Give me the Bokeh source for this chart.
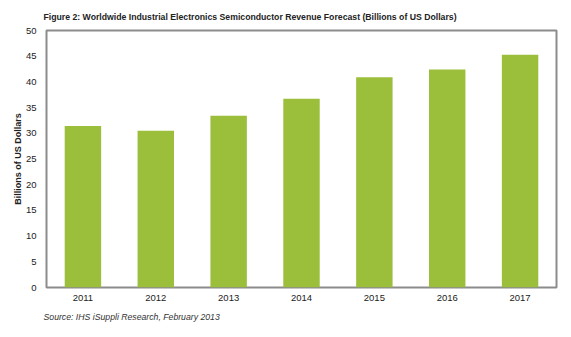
from bokeh.plotting import figure
from bokeh.models import ColumnDataSource, Title, Range1d, FixedTicker
from bokeh.embed import file_html
from bokeh.resources import INLINE

years = ["2011", "2012", "2013", "2014", "2015", "2016", "2017"]
revenue = [31.4, 30.5, 33.4, 36.7, 40.9, 42.4, 45.3]
y_ticks = [0, 5, 10, 15, 20, 25, 30, 35, 40, 45, 50]

FONT = "Liberation Sans"

src = ColumnDataSource(data=dict(year=years, revenue=revenue))

p = figure(
    x_range=years,
    y_range=Range1d(0, 50),
    width=571,
    height=337,
    output_backend="svg",
    toolbar_location=None,
    min_border_left=46,
    min_border_right=15,
    min_border_top=30,
    min_border_bottom=50,
)

p.vbar(x="year", top="revenue", width=0.5, source=src,
       fill_color="#9bbf3b", line_color=None)

p.title.text = "Figure 2: Worldwide Industrial Electronics Semiconductor Revenue Forecast (Billions of US Dollars)"
p.title.text_font = FONT
p.title.text_font_size = "8.7px"
p.title.text_font_style = "bold"
p.title.text_color = "#222222"
p.title.align = "left"
p.title.offset = -3
p.title.standoff = 18

p.add_layout(Title(text="Source: IHS iSuppli Research, February 2013",
                   text_font=FONT, text_font_size="8.7px",
                   text_font_style="italic", text_color="#333333",
                   align="left", offset=-3, standoff=13), "below")

p.outline_line_color = "#8c8c8c"
p.outline_line_width = 2
p.xgrid.grid_line_color = None
p.ygrid.grid_line_color = None
p.background_fill_color = "white"
p.border_fill_color = "white"

for ax in (p.xaxis, p.yaxis):
    ax.axis_line_color = None
    ax.major_tick_line_color = None
    ax.minor_tick_line_color = None
    ax.major_tick_out = 0
    ax.major_tick_in = 0
    ax.minor_tick_out = 0
    ax.minor_tick_in = 0
    ax.major_label_text_font = FONT
    ax.major_label_text_font_size = "9.5px"
    ax.major_label_text_color = "#222222"

p.yaxis.ticker = FixedTicker(ticks=y_ticks)
p.yaxis.major_label_standoff = 10
p.xaxis.major_label_standoff = 7
p.yaxis.axis_label = "Billions of US Dollars"
p.yaxis.axis_label_text_font = FONT
p.yaxis.axis_label_text_font_size = "9px"
p.yaxis.axis_label_text_font_style = "bold"
p.yaxis.axis_label_text_color = "#222222"
p.yaxis.axis_label_standoff = 0

open("out.html", "w").write(file_html(p, INLINE))
